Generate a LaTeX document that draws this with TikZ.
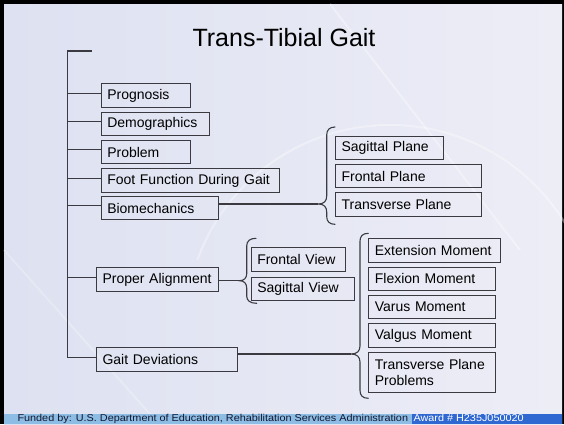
\documentclass[tikz,border=0pt]{standalone}
\usepackage{fontspec}
\setmainfont{Liberation Sans}
\usetikzlibrary{calc}
\definecolor{bgL}{RGB}{221,225,241}
\definecolor{bgR}{RGB}{237,237,246}
\definecolor{lineC}{RGB}{58,58,64}
\definecolor{footL}{RGB}{141,189,228}
\definecolor{footD}{RGB}{48,104,210}
\definecolor{footT}{RGB}{20,24,48}
\begin{document}
\begin{tikzpicture}[x=1pt,y=-1pt,
  box/.style={draw=lineC, line width=1.1pt, anchor=north west, inner xsep=6pt, inner ysep=0pt,
              align=left, font=\fontsize{14}{16}\selectfont, text=black, minimum height=23.3pt},
  conn/.style={draw=lineC, line width=1.1pt},
  brc/.style={draw=lineC, line width=1.1pt, line cap=round},
  deco/.style={draw=white, opacity=0.35, line width=2pt}
]
\useasboundingbox (0,0) rectangle (564,424);
\clip (0,0) rectangle (564,424);
% frame and background
\fill[black] (0,0) rectangle (564,424);
\shade[left color=bgL, right color=bgR] (4,4) rectangle (562,424);
\draw[deco] (390,330) ++(200:205) arc[start angle=200, end angle=345, radius=205];
\draw[deco] (330,4) -- (520,250);
\draw[deco, opacity=0.25] (4,250) -- (150,414);

% title
\node[anchor=base, font=\fontsize{25}{28}\selectfont] (title) at (284,46.7) {Trans-Tibial Gait};

% left column boxes
\node[box, text width=77.3pt] (prog) at (100.7,83.3) {Prognosis};
\node[box, text width=96pt] (demo) at (100.7,112) {Demographics};
\node[box, text width=77.3pt] (prob) at (100.7,140) {Problem};
\node[box, text width=166.3pt] (foot) at (100.7,168.3) {Foot Function During Gait};
\node[box, text width=105.6pt] (bio) at (100.7,196) {Biomechanics};
\node[box, text width=110.3pt] (align) at (96,267.3) {Proper Alignment};
\node[box, text width=129.3pt] (gait) at (96,347.3) {Gait Deviations};

% views
\node[box, text width=82.3pt] (fview) at (250.7,247.3) {Frontal View};
\node[box, text width=91.3pt] (sview) at (250.7,276.7) {Sagittal View};

% planes
\node[box, text width=96.3pt] (splane) at (335,135.7) {Sagittal Plane};
\node[box, text width=134pt] (fplane) at (335,164) {Frontal Plane};
\node[box, text width=134pt] (tplane) at (335,192.3) {Transverse Plane};

% moments
\node[box, text width=119.7pt, minimum height=24pt] (ext) at (368.3,238.3) {Extension Moment};
\node[box, text width=114.7pt] (flex) at (368.3,266.7) {Flexion Moment};
\node[box, text width=114.7pt] (varus) at (368.3,295) {Varus Moment};
\node[box, text width=114.7pt] (valgus) at (368.3,323.3) {Valgus Moment};
\node[box, text width=114.7pt, minimum height=40pt] (tpp) at (368.3,351.7) {Transverse Plane\\Problems};

% trunk
\coordinate (t0) at (67.7,51);
\coordinate (t1) at (91.7,51);
\path (gait.west) ++(0,2.3pt) coordinate (gb);
\draw[conn] (t1) -- (t0) -- (t0 |- gb) -- (gb);
\foreach \n in {prog,demo,prob,foot,bio,align}
  \draw[conn] (\n.west) ++(0,2.3pt) coordinate (tmp) -- (tmp -| t0);

% brace tips
\coordinate (tipP) at (318.3,204);
\coordinate (tipV) at (239.5,280.7);
\coordinate (tipM) at (351,354);

\draw[conn] (bio.east |- tipP) -- (tipP);
\draw[conn] (align.east |- tipV) -- (tipV);
\draw[conn] (gait.east |- tipM) -- (tipM);

% planes brace
\draw[brc] (335,127) .. controls (329.5,127) and (326.7,130) .. (326.7,135)
  -- (326.7,196) .. controls (326.7,201) and (324,204) .. (tipP)
  .. controls (324,204) and (326.7,207) .. (326.7,212)
  -- (326.7,216.5) .. controls (326.7,221.5) and (329.5,224.3) .. (335,224.3);
% views brace
\draw[brc] (256,238.3) .. controls (250,238.3) and (246.7,241) .. (246.7,246)
  -- (246.7,273.7) .. controls (246.7,278) and (244,280.7) .. (tipV)
  .. controls (244,280.7) and (246.7,283.4) .. (246.7,288)
  -- (246.7,296) .. controls (246.7,300.5) and (250,303.3) .. (256.7,303.3);
% moments brace
\draw[brc] (368.3,233.3) .. controls (362.5,233.3) and (360,236.3) .. (360,241.3)
  -- (360,346) .. controls (360,351) and (357,354) .. (tipM)
  .. controls (357,354) and (360,357) .. (360,362)
  -- (360,390.3) .. controls (360,395.3) and (362.5,398.3) .. (368.3,398.3);

% footer
\fill[footL] (4,414) rectangle (411.7,424);
\fill[footD] (411.7,414) rectangle (562,424);
\node[anchor=base west, inner sep=0pt, text=footT, font=\fontsize{10}{12}\selectfont] (fund) at (17.3,421.6)
  {\scalebox{1.085}[1]{Funded by: U.S. Department of Education, Rehabilitation Services Administration}};
\node[anchor=base west, inner sep=0pt, text=white, font=\fontsize{10}{12}\selectfont] (award) at (413.3,421.6)
  {\scalebox{1.085}[1]{Award \# H235J050020}};
\end{tikzpicture}
\end{document}
